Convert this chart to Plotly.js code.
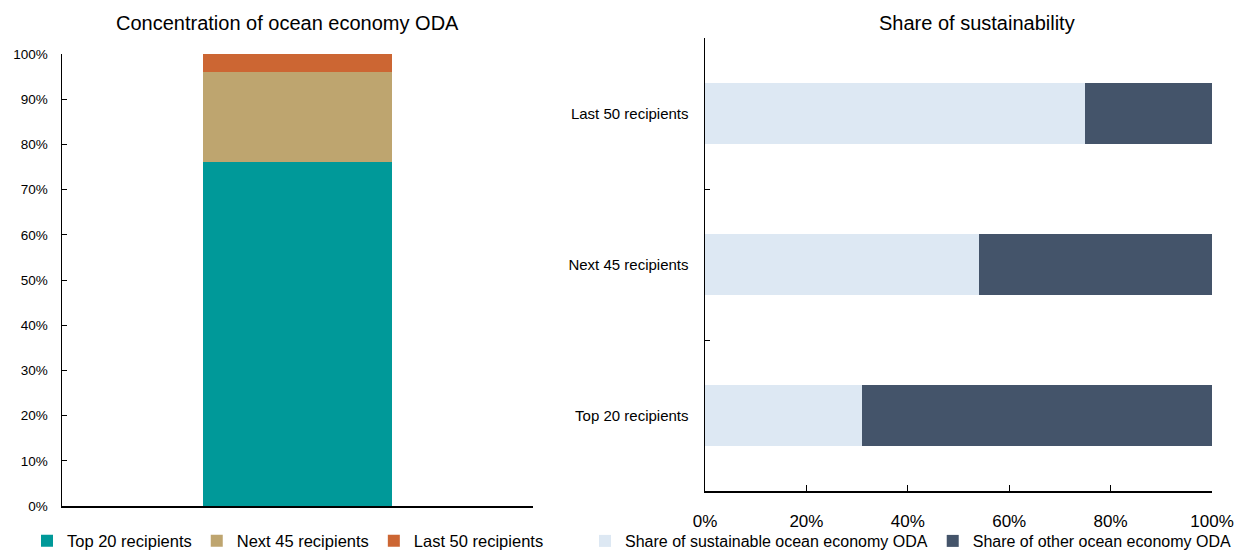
<!DOCTYPE html>
<html><head><meta charset="utf-8">
<script src="https://cdn.plot.ly/plotly-3.0.1.min.js"></script>
<style>body{margin:0;}#c{width:1241px;height:550px;}</style>
</head><body><div id="c"></div>
<script>
const concCategory = [""];
const top20Share = [76];
const next45Share = [20];
const last50Share = [4];

const sustCategories = ["Top 20 recipients", "Next 45 recipients", "Last 50 recipients"];
const sustainableShare = [31, 54, 75];
const otherShare = [69, 46, 25];

const FONT = "Liberation Sans, Arial, sans-serif";

const traces = [
  {type:"bar", x:concCategory, y:top20Share, name:"Top 20 recipients", marker:{color:"#009999"}, width:0.4, xaxis:"x", yaxis:"y", legend:"legend"},
  {type:"bar", x:concCategory, y:next45Share, name:"Next 45 recipients", marker:{color:"#BEA56F"}, width:0.4, xaxis:"x", yaxis:"y", legend:"legend"},
  {type:"bar", x:concCategory, y:last50Share, name:"Last 50 recipients", marker:{color:"#CC6633"}, width:0.4, xaxis:"x", yaxis:"y", legend:"legend"},
  {type:"bar", orientation:"h", y:sustCategories, x:sustainableShare, name:"Share of sustainable ocean economy ODA", marker:{color:"#DDE8F3"}, width:0.4, xaxis:"x2", yaxis:"y2", legend:"legend2"},
  {type:"bar", orientation:"h", y:sustCategories, x:otherShare, name:"Share of other ocean economy ODA", marker:{color:"#44546A"}, width:0.4, xaxis:"x2", yaxis:"y2", legend:"legend2"}
];

const layout = {
  width:1241, height:550,
  margin:{l:0,r:0,t:0,b:0, autoexpand:false},
  barmode:"stack",
  paper_bgcolor:"#ffffff", plot_bgcolor:"#ffffff",
  font:{family:FONT, color:"#000000", size:14},
  hovermode:false,
  xaxis:{domain:[62/1241, 533/1241], type:"category", range:[-0.5,0.5], showline:true, linecolor:"#000", linewidth:1.5,
         ticks:"inside", tickson:"boundaries", ticklen:6, tickcolor:"#000", showticklabels:false, showgrid:false, zeroline:false, fixedrange:true},
  yaxis:{domain:[44/550, 496/550], range:[0,100], dtick:10, ticksuffix:"%", showline:true, linecolor:"#000", linewidth:1.5,
         ticks:"inside", ticklen:5, tickcolor:"#000", showgrid:false, zeroline:false, tickfont:{size:13.5, family:FONT}, ticklabelstandoff:10},
  xaxis2:{domain:[705/1241, 1212/1241], anchor:"y2", range:[0,100], dtick:20, ticksuffix:"%", showline:true, linecolor:"#000", linewidth:1.5,
          ticks:"inside", ticklen:6, tickcolor:"#000", showgrid:false, zeroline:false, tickfont:{size:17, family:FONT}, ticklabelstandoff:14},
  yaxis2:{domain:[59/550, 512/550], anchor:"x2", type:"category", range:[-0.5,2.5], showline:true, linecolor:"#000", linewidth:1.5,
          ticks:"inside", tickson:"boundaries", ticklen:5, tickcolor:"#000", showgrid:false, zeroline:false, tickfont:{size:15, family:FONT}, ticklabelstandoff:12},
  legend:{orientation:"h", x:27/1241, xanchor:"left", y:9/550, yanchor:"middle", font:{size:16.5, family:FONT}, itemwidth:30, traceorder:"normal", bgcolor:"rgba(0,0,0,0)"},
  legend2:{orientation:"h", x:585/1241, xanchor:"left", y:9/550, yanchor:"middle", font:{size:16, family:FONT}, itemwidth:30, traceorder:"normal", bgcolor:"rgba(0,0,0,0)"},
  annotations:[
    {text:"Concentration of ocean economy ODA", xref:"paper", yref:"paper", x:287/1241, y:(550-23)/550, xanchor:"center", yanchor:"middle", showarrow:false, font:{size:20, family:FONT}},
    {text:"Share of sustainability", xref:"paper", yref:"paper", x:977/1241, y:(550-23)/550, xanchor:"center", yanchor:"middle", showarrow:false, font:{size:20, family:FONT}}
  ]
};

Plotly.newPlot("c", traces, layout, {displayModeBar:false, staticPlot:true});
</script></body></html>
